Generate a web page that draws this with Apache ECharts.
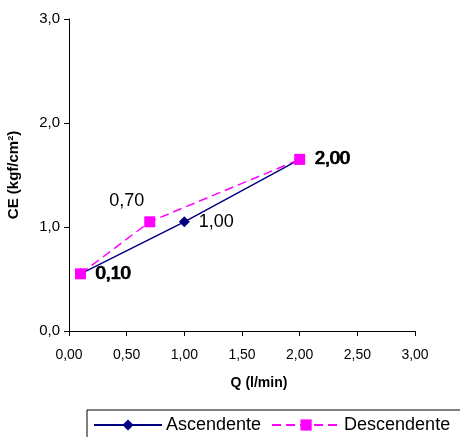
<!DOCTYPE html>
<html>
<head>
<meta charset="utf-8">
<script src="https://cdn.jsdelivr.net/npm/echarts@6/dist/echarts.min.js"></script>
<style>html,body{margin:0;padding:0;background:#fff;}#c{width:460px;height:437px;}</style>
</head>
<body>
<div id="c"></div>
<script>
const seriesNames = ['Ascendente', 'Descendente'];
const ascQ = [0.10, 1.00, 2.00];
const ascCE = [0.55, 1.05, 1.65];
const descQ = [0.10, 0.70, 2.00];
const descCE = [0.55, 1.05, 1.65];
const xTitle = 'Q (l/min)';
const yTitle = 'CE (kgf/cm²)';

const sans = '"Liberation Sans", Arial, sans-serif';
const fmt2 = v => v.toFixed(2).replace('.', ',');
const fmt1 = v => v.toFixed(1).replace('.', ',');

const ascData = ascQ.map((q, i) => [q, ascCE[i]]);
const descData = descQ.map((q, i) => {
  const d = { value: [q, descCE[i]] };
  if (i === 1) d.label = { position: 'inside', offset: [-23, -21], textBorderWidth: 0 };
  return d;
});

const chart = echarts.init(document.getElementById('c'), null, { renderer: 'canvas' });
chart.setOption({
  animation: false,
  backgroundColor: '#fff',
  grid: { left: 69, right: 45, top: 19, bottom: 106, containLabel: false, outerBoundsMode: 'none' },
  legend: {
    data: seriesNames,
    left: 87, top: 410, width: 420,
    orient: 'horizontal',
    borderColor: '#000', borderWidth: 1, borderRadius: 0,
    padding: [6, 30, 10, 6],
    itemWidth: 68, itemHeight: 14, itemGap: 10,
    textStyle: { fontFamily: sans, fontSize: 18, color: '#000', padding: [0, 0, 0, -1] }
  },
  xAxis: {
    type: 'value', min: 0, max: 3, interval: 0.5,
    name: xTitle, nameLocation: 'middle', nameGap: 45,
    nameTextStyle: { fontFamily: sans, fontSize: 14, fontWeight: 'bold', color: '#000', padding: [0, 0, 0, 34] },
    axisLine: { show: true, onZero: false, lineStyle: { color: '#000', width: 1 } },
    axisTick: { show: true, inside: false, length: 5, lineStyle: { color: '#000' } },
    axisLabel: { margin: 17, fontFamily: sans, fontSize: 14, color: '#000', formatter: fmt2 },
    splitLine: { show: false }
  },
  yAxis: {
    type: 'value', min: 0, max: 3, interval: 1,
    name: yTitle, nameLocation: 'middle', nameGap: 48, nameRotate: 90,
    nameTextStyle: { fontFamily: sans, fontSize: 15, fontWeight: 'bold', color: '#000' },
    axisLine: { show: true, onZero: false, lineStyle: { color: '#000', width: 1 } },
    axisTick: { show: true, inside: false, length: 5, lineStyle: { color: '#000' } },
    axisLabel: { margin: 9, fontFamily: sans, fontSize: 15, color: '#000', formatter: fmt1 },
    splitLine: { show: false }
  },
  series: [
    {
      name: seriesNames[0], type: 'line', data: ascData,
      symbol: 'diamond', symbolSize: 11,
      itemStyle: { color: '#000080' },
      lineStyle: { color: '#000080', width: 1.5 },
      label: { show: true, position: 'right', distance: 9, fontFamily: sans, fontSize: 18, color: '#000',
        formatter: p => fmt2(p.value[0]) },
      z: 2
    },
    {
      name: seriesNames[1], type: 'line', data: descData,
      symbol: 'rect', symbolSize: 11,
      itemStyle: { color: '#FF00FF' },
      lineStyle: { color: '#FF00FF', width: 1.5, type: [9, 5] },
      label: { show: true, position: 'right', distance: 10, fontFamily: sans, fontSize: 18, color: '#000',
        textBorderColor: '#000', textBorderWidth: 0.7,
        formatter: p => fmt2(p.value[0]) },
      z: 3
    }
  ]
});
</script>
</body>
</html>
